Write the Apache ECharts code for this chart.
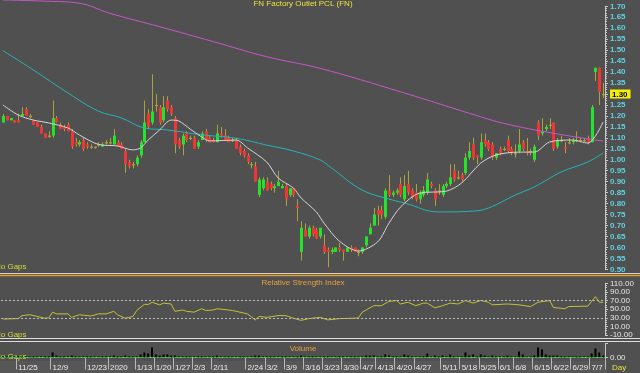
<!DOCTYPE html>
<html><head><meta charset="utf-8">
<script src="https://cdn.jsdelivr.net/npm/echarts@6/dist/echarts.min.js"></script>
<style>html,body{margin:0;padding:0;background:#505050;overflow:hidden}#c{width:640px;height:373px;}</style>
</head><body><div id="c"></div>
<script>
const dates = ['11/19','11/20','11/21','11/22','11/25','11/26','11/27','11/28','11/29',
'12/2','12/3','12/4','12/6','12/9','12/11','12/12','12/13','12/16','12/17','12/18','12/19','12/20','12/23','12/24','12/25','12/26','12/27','12/30',
'1/2','1/3','1/6','1/7','1/8','1/9','1/10','1/13','1/14','1/15','1/16','1/17','1/20','1/21','1/22','1/23','1/24','1/27','1/28','1/29','1/30','1/31',
'2/3','2/4','2/5','2/6','2/7','2/11','2/12','2/13','2/14','2/17','2/18','2/19','2/20','2/21','2/24','2/25','2/26','2/27','2/28',
'3/2','3/3','3/4','3/5','3/6','3/9','3/10','3/11','3/12','3/13','3/16','3/17','3/18','3/19','3/20','3/23','3/24','3/25','3/26','3/27','3/30','3/31',
'4/1','4/2','4/3','4/7','4/8','4/9','4/10','4/13','4/14','4/15','4/16','4/17','4/20','4/21','4/22','4/23','4/24','4/27','4/28','4/29','4/30',
'5/5','5/7','5/8','5/11','5/12','5/13','5/14','5/15','5/18','5/19','5/20','5/21','5/22','5/25','5/26','5/27','5/28','5/29',
'6/1','6/2','6/4','6/5','6/8','6/9','6/10','6/11','6/12','6/15','6/16','6/17','6/18','6/19','6/22','6/23','6/24','6/25','6/26','6/29','6/30',
'7/1','7/2','7/3','7/7','7/8','7/9','7/10'];

const tickDates  = ['11/25','12/9','12/23','1/2','1/13','1/20','1/27','2/3','2/11','2/24','3/2','3/9','3/16','3/23','3/30','4/7','4/13','4/20','4/27','5/11','5/18','5/25','6/1','6/8','6/15','6/22','6/29','7/7'];
const tickLabels = ['11/25','12/9','12/23','2020','1/13','1/20','1/27','2/3','2/11','2/24','3/2','3/9','3/16','3/23','3/30','4/7','4/13','4/20','4/27','5/11','5/18','5/25','6/1','6/8','6/15','6/22','6/29','7/7'];

const open = [1.17,1.20,1.18,1.18,1.18,1.20,1.23,1.20,1.18,1.17,
1.15,1.12,1.11,1.11,1.19,1.16,1.15,1.16,1.13,1.08,
1.07,1.09,1.07,1.06,1.06,1.07,1.06,1.08,1.08,1.07,
1.08,1.07,1.04,0.99,0.98,0.98,1.02,1.08,1.21,1.17,
1.25,1.24,1.18,1.27,1.24,1.19,1.09,1.07,1.12,1.10,
1.10,1.06,1.09,1.13,1.10,1.09,1.08,1.12,1.11,1.10,
1.09,1.09,1.06,1.04,1.02,0.98,0.97,0.84,0.87,0.90,
0.89,0.87,0.88,0.87,0.88,0.84,0.87,0.79,0.58,0.68,
0.65,0.69,0.68,0.65,0.61,0.59,0.58,0.58,0.60,0.59,
0.58,0.60,0.60,0.58,0.58,0.61,0.66,0.70,0.77,0.77,
0.74,0.86,0.84,0.85,0.89,0.82,0.89,0.86,0.85,0.82,
0.84,0.85,0.89,0.86,0.86,0.84,0.88,0.89,0.95,0.92,
0.93,0.94,1.01,1.07,1.02,1.01,1.09,1.08,1.07,1.01,
1.05,1.05,1.09,1.05,1.03,1.04,1.08,1.04,1.04,1.00,
1.17,1.12,1.14,1.16,1.17,1.06,1.09,1.06,1.08,1.08,
1.09,1.09,1.09,1.10,1.08,1.40,1.42,1.30];
const high = [1.21,1.20,1.19,1.18,1.21,1.24,1.24,1.21,1.18,1.17,
1.16,1.12,1.13,1.27,1.20,1.17,1.16,1.17,1.14,1.10,
1.09,1.10,1.08,1.07,1.06,1.08,1.08,1.09,1.10,1.14,
1.09,1.08,1.05,1.00,0.99,1.02,1.09,1.27,1.23,1.39,
1.30,1.25,1.29,1.29,1.25,1.20,1.10,1.12,1.13,1.11,
1.11,1.09,1.13,1.14,1.11,1.10,1.16,1.15,1.14,1.11,
1.10,1.10,1.07,1.05,1.03,0.99,0.99,0.92,0.92,0.92,
0.90,0.89,0.95,0.89,0.89,0.87,0.87,0.82,0.72,0.71,
0.70,0.70,0.69,0.69,0.66,0.60,0.60,0.60,0.62,0.59,
0.60,0.61,0.60,0.59,0.60,0.65,0.71,0.78,0.79,0.79,
0.87,0.93,0.86,0.87,0.92,0.93,0.95,0.87,0.89,0.86,
0.88,0.94,0.90,0.87,0.89,0.89,0.90,0.98,0.98,0.95,
0.94,1.03,1.08,1.10,1.02,1.12,1.12,1.09,1.08,1.03,
1.06,1.06,1.11,1.06,1.07,1.14,1.09,1.10,1.05,1.07,
1.18,1.19,1.16,1.19,1.17,1.10,1.11,1.08,1.10,1.10,
1.13,1.10,1.10,1.11,1.25,1.42,1.42,1.35];
const low = [1.17,1.18,1.18,1.17,1.17,1.20,1.20,1.19,1.16,1.15,
1.12,1.10,1.10,1.10,1.17,1.14,1.13,1.13,1.05,1.06,
1.06,1.04,1.05,1.05,1.05,1.06,1.06,1.07,1.07,1.07,
1.06,1.05,0.94,0.96,0.96,0.97,1.01,1.08,1.14,1.16,
1.22,1.16,1.17,1.22,1.20,1.03,1.05,1.02,1.08,1.09,
1.05,1.05,1.09,1.08,1.08,1.08,1.08,1.10,1.09,1.08,
1.08,1.05,1.02,1.01,0.98,0.96,0.90,0.83,0.86,0.86,
0.86,0.85,0.88,0.87,0.79,0.83,0.83,0.72,0.54,0.65,
0.64,0.65,0.64,0.64,0.57,0.51,0.57,0.58,0.58,0.54,
0.58,0.58,0.58,0.56,0.57,0.60,0.66,0.70,0.70,0.73,
0.73,0.83,0.83,0.84,0.83,0.81,0.84,0.82,0.81,0.80,
0.83,0.84,0.87,0.79,0.84,0.83,0.87,0.88,0.90,0.91,
0.90,0.93,1.00,1.00,0.98,1.00,1.06,1.04,1.00,1.00,
1.02,1.04,1.03,1.02,1.01,1.03,1.04,1.02,1.02,0.99,
1.09,1.11,1.13,1.14,1.04,1.05,1.08,1.03,1.07,1.07,
1.08,1.08,1.08,1.07,1.08,1.36,1.25,1.28];
const close = [1.20,1.18,1.19,1.17,1.17,1.21,1.20,1.20,1.16,1.15,
1.12,1.10,1.11,1.19,1.17,1.14,1.14,1.13,1.06,1.07,
1.08,1.05,1.06,1.06,1.06,1.07,1.07,1.08,1.08,1.11,
1.06,1.05,0.98,0.97,0.98,1.01,1.08,1.17,1.15,1.22,
1.25,1.17,1.24,1.23,1.21,1.07,1.06,1.11,1.09,1.10,
1.05,1.08,1.12,1.09,1.08,1.08,1.12,1.11,1.09,1.08,
1.09,1.05,1.03,1.02,0.99,0.98,0.90,0.91,0.91,0.86,
0.87,0.88,0.90,0.88,0.82,0.87,0.84,0.78,0.69,0.65,
0.69,0.66,0.64,0.69,0.58,0.58,0.59,0.60,0.59,0.58,
0.60,0.59,0.58,0.58,0.60,0.65,0.69,0.75,0.75,0.75,
0.86,0.84,0.85,0.86,0.84,0.88,0.85,0.83,0.82,0.85,
0.86,0.91,0.88,0.82,0.86,0.88,0.89,0.92,0.91,0.92,
0.91,1.01,1.04,1.01,1.01,1.08,1.07,1.05,1.01,1.03,
1.03,1.05,1.04,1.03,1.03,1.07,1.05,1.03,1.04,1.06,
1.11,1.13,1.15,1.16,1.05,1.09,1.09,1.05,1.08,1.09,
1.09,1.09,1.09,1.08,1.24,1.42,1.31,1.30];
const volume = [1,1,1,1,2,1,1,1,1,1,
1,1,1,5,2,1,1,1,2,1,
1,1,1,1,1,1,1,1,1,2,
1,1,2,1,1,1,3,5,4,10,
3,2,3,3,2,2,1,1,1,1,
1,1,1,1,1,1,2,1,1,1,
1,1,1,1,1,1,2,2,1,1,
1,1,1,1,1,1,1,1,2,1,
1,1,1,1,1,1,1,1,1,1,
1,1,1,1,1,2,2,2,1,1,
3,2,1,1,1,3,2,1,1,1,
1,4,1,2,1,2,1,3,1,1,
1,5,2,3,1,3,2,1,2,1,
1,1,2,1,1,6,3,1,1,2,
10,8,3,2,2,2,1,1,1,1,
1,1,1,1,4,9,5,2];

// moving averages at the listed day indexes
const ma200 = [[0,1.729],[10,1.724],[20,1.714],[28,1.668],[41,1.607],[55,1.539],[69,1.470],[83,1.417],[104,1.310],[125,1.196],[131,1.166],[144,1.121],[157,1.085]];
const ma50 = [[0,1.498],[8,1.409],[17,1.305],[25,1.222],[31,1.191],[37,1.145],[43,1.136],[52,1.114],[61,1.098],[69,1.067],[76,1.040],[83,0.999],[86,0.962],[94,0.862],[102,0.816],[105,0.803],[114,0.762],[123,0.766],[127,0.780],[134,0.839],[139,0.876],[146,0.944],[153,0.990],[157,1.031]];
const ma10 = [[0,1.250],[4,1.204],[8,1.181],[12,1.168],[17,1.145],[20,1.113],[24,1.076],[26,1.067],[30,1.063],[34,1.045],[36,1.054],[38,1.090],[41,1.136],[44,1.181],[46,1.177],[49,1.140],[52,1.104],[54,1.086],[61,1.090],[64,1.054],[69,0.990],[72,0.917],[76,0.871],[78,0.826],[82,0.762],[84,0.711],[88,0.629],[93,0.584],[98,0.625],[101,0.711],[104,0.784],[109,0.848],[116,0.857],[120,0.894],[125,0.985],[129,1.022],[135,1.035],[139,1.035],[143,1.081],[149,1.090],[153,1.076],[157,1.172]];
const rsi = [[0,27],[4,28],[5,35],[7,37],[11,29],[12,30],[13,43],[14,39],[17,39],[18,31],[20,37],[23,34],[25,39],[27,39],[29,45],[30,37],[32,29],[34,33],[35,47],[37,61],[38,61],[39,66],[41,60],[42,64],[44,62],[45,45],[47,48],[48,45],[50,43],[52,51],[53,47],[55,48],[56,51],[59,48],[60,47],[64,39],[66,25],[67,33],[69,31],[72,35],[74,35],[76,29],[78,24],[80,28],[83,31],[85,25],[88,28],[92,29],[93,30],[94,43],[97,58],[99,58],[101,68],[103,70],[104,62],[106,66],[108,58],[110,64],[111,64],[113,53],[115,58],[117,64],[119,62],[121,70],[123,64],[125,70],[127,66],[128,60],[132,62],[135,60],[138,56],[140,66],[143,70],[144,54],[147,51],[148,56],[153,57],[155,79],[156,66],[157,66]];

const FONT = 'Liberation Sans';
const OLIVE = '#aaa23a';
const lastClose = close[close.length - 1];
const candleData = dates.map((d, i) => [i, open[i], close[i], low[i], high[i]]);

function renderCandle(params, api) {
  const i = api.value(0);
  const o = api.value(1), c = api.value(2), l = api.value(3), h = api.value(4);
  const pO = api.coord([i, o]), pC = api.coord([i, c]);
  const pL = api.coord([i, l]), pH = api.coord([i, h]);
  const cx = Math.round(pO[0]) + 0.5;
  const col = c > o ? '#22e52a' : (c < o ? '#f23434' : OLIVE);
  const top = Math.min(pO[1], pC[1]);
  const hgt = Math.max(1.2, Math.abs(pO[1] - pC[1]));
  return {
    type: 'group',
    children: [
      { type: 'line', shape: { x1: cx, y1: pH[1], x2: cx, y2: pL[1] }, style: { stroke: OLIVE, lineWidth: 1 } },
      { type: 'rect', shape: { x: cx - 1.5, y: top, width: 3, height: hgt }, style: { fill: col } }
    ]
  };
}

const isTick = (idx, val) => tickDates.indexOf(val) >= 0;
const hiddenX = (g) => ({ type: 'category', gridIndex: g, data: dates, boundaryGap: true,
  axisLine: { show: false }, axisTick: { show: false }, axisLabel: { show: false }, splitLine: { show: false } });
const axisCol = '#c8c8c8';

const option = {
  backgroundColor: '#505050',
  animation: false,
  grid: [
    { left: 1, width: 604, top: 6.3, height: 263.1 },
    { left: 1, width: 604, top: 283.3, height: 51.7 },
    { left: 1, width: 604, top: 343.5, height: 14 }
  ],
  xAxis: [
    hiddenX(0), hiddenX(1),
    { type: 'category', gridIndex: 2, data: dates, boundaryGap: true, offset: 3.5,
      axisLine: { show: true, lineStyle: { color: '#a8a8a8' } },
      axisTick: { show: true, interval: isTick, length: 12, lineStyle: { color: '#b8b8b8' } },
      axisLabel: { show: true, interval: isTick, align: 'left', margin: 3, color: '#ececec', fontFamily: FONT, fontSize: 8,
        formatter: (v) => { const k = tickDates.indexOf(v); return k >= 0 ? tickLabels[k] : ''; } },
      splitLine: { show: false } }
  ],
  yAxis: [
    { type: 'value', gridIndex: 0, position: 'right', min: 0.5, max: 1.7, interval: 0.05,
      axisLine: { show: true, lineStyle: { color: axisCol } },
      axisTick: { show: true, length: 3, lineStyle: { color: axisCol } },
      minorTick: { show: true, splitNumber: 5, length: 2, lineStyle: { color: axisCol } },
      splitLine: { show: false },
      axisLabel: { margin: 5, color: '#5fd2e2', fontFamily: FONT, fontSize: 8, fontWeight: 'bold',
        formatter: (v) => Math.abs(v - lastClose) < 1e-6 ? '{hl|' + v.toFixed(2) + '}' : v.toFixed(2),
        rich: { hl: { backgroundColor: '#f2f000', color: '#000', fontFamily: FONT, fontSize: 8, fontWeight: 'bold', padding: [1, 3, 0, 2] } } } },
    { type: 'value', gridIndex: 1, position: 'right', min: -10, max: 110, interval: 20,
      axisLine: { show: true, lineStyle: { color: axisCol } },
      axisTick: { show: true, length: 3, lineStyle: { color: axisCol } },
      minorTick: { show: true, splitNumber: 4, length: 2, lineStyle: { color: axisCol } },
      splitLine: { show: false },
      axisLabel: { margin: 5, color: '#e6e6e6', fontFamily: FONT, fontSize: 8, formatter: (v) => v.toFixed(2) } },
    { type: 'value', gridIndex: 2, position: 'right', min: 0, max: 14, interval: 14,
      axisLine: { show: true, lineStyle: { color: axisCol } },
      axisTick: { show: true, length: 3, lineStyle: { color: axisCol } },
      splitLine: { show: false },
      axisLabel: { margin: 5, color: '#e6e6e6', fontFamily: FONT, fontSize: 8, formatter: (v) => v === 0 ? '0.00' : '' } }
  ],
  series: [
    { type: 'custom', name: 'FN', xAxisIndex: 0, yAxisIndex: 0, data: candleData, renderItem: renderCandle,
      encode: { x: 0, y: [1, 2, 3, 4] }, z: 2 },
    { type: 'line', name: 'MA200', xAxisIndex: 0, yAxisIndex: 0, data: ma200, smooth: 0.4, showSymbol: false, symbol: 'none',
      clip: false, lineStyle: { color: '#c458c8', width: 1 }, z: 3 },
    { type: 'line', name: 'MA50', xAxisIndex: 0, yAxisIndex: 0, data: ma50, smooth: 0.4, symbol: 'none',
      lineStyle: { color: '#26b4b8', width: 1 }, z: 3 },
    { type: 'line', name: 'MA10', xAxisIndex: 0, yAxisIndex: 0, data: ma10, smooth: 0.3, symbol: 'none',
      lineStyle: { color: '#d6d6d6', width: 1 }, z: 4 },
    { type: 'line', name: 'RSI', xAxisIndex: 1, yAxisIndex: 1, data: rsi, symbol: 'none',
      lineStyle: { color: '#c6c032', width: 1 },
      markLine: { silent: true, symbol: 'none', label: { show: false },
        lineStyle: { color: '#b8b8b8', type: [2, 2], width: 1 },
        data: [{ yAxis: 70 }, { yAxis: 30 }] } },
    { type: 'bar', name: 'Volume', xAxisIndex: 2, yAxisIndex: 2, data: volume, barWidth: 2,
      itemStyle: { color: '#000000' },
      markLine: { silent: true, symbol: 'none', label: { show: false },
        lineStyle: { color: '#1ec81e', type: [2, 1], width: 1 }, data: [{ yAxis: 0.6 }] } }
  ],
  graphic: { elements: [
    { type: 'rect', z: -1, shape: { x: 0, y: 361, width: 607, height: 12 }, style: { fill: '#575757' } },
    { type: 'line', shape: { x1: 0, y1: 273.5, x2: 640, y2: 273.5 }, style: { stroke: '#d0d0d0', lineWidth: 1 } },
    { type: 'line', shape: { x1: 0, y1: 275.5, x2: 640, y2: 275.5 }, style: { stroke: '#e8a028', lineWidth: 1.5 } },
    { type: 'line', shape: { x1: 0, y1: 338.5, x2: 640, y2: 338.5 }, style: { stroke: '#dedede', lineWidth: 1 } },
    { type: 'line', shape: { x1: 0, y1: 341.5, x2: 640, y2: 341.5 }, style: { stroke: '#dedede', lineWidth: 1 } },
    { type: 'text', x: 303, y: 3.5, style: { text: 'FN Factory Outlet PCL (FN)', fill: '#eae23a', font: '8px "Liberation Sans"', textAlign: 'center', textVerticalAlign: 'middle' } },
    { type: 'text', x: 303, y: 283, style: { text: 'Relative Strength Index', fill: '#e8a040', font: '8px "Liberation Sans"', textAlign: 'center', textVerticalAlign: 'middle' } },
    { type: 'text', x: 303, y: 348.5, style: { text: 'Volume', fill: '#e8a040', font: '8px "Liberation Sans"', textAlign: 'center', textVerticalAlign: 'middle' } },
    { type: 'text', x: -5, y: 267, style: { text: 'No Gaps', fill: '#d8d83a', font: '8px "Liberation Sans"', textVerticalAlign: 'middle' } },
    { type: 'text', x: -5, y: 334.5, style: { text: 'No Gaps', fill: '#d8d83a', font: '8px "Liberation Sans"', textVerticalAlign: 'middle' } },
    { type: 'text', x: -5, y: 357, style: { text: 'No Gaps', fill: '#d8d83a', font: '8px "Liberation Sans"', textVerticalAlign: 'middle' } },
    { type: 'text', x: 612, y: 368, style: { text: 'Day', fill: '#eae23a', font: '8px "Liberation Sans"', textVerticalAlign: 'middle' } }
  ] }
};
const chart = echarts.init(document.getElementById('c'), null, { renderer: 'canvas' });
chart.setOption(option);
</script>
</body></html>
